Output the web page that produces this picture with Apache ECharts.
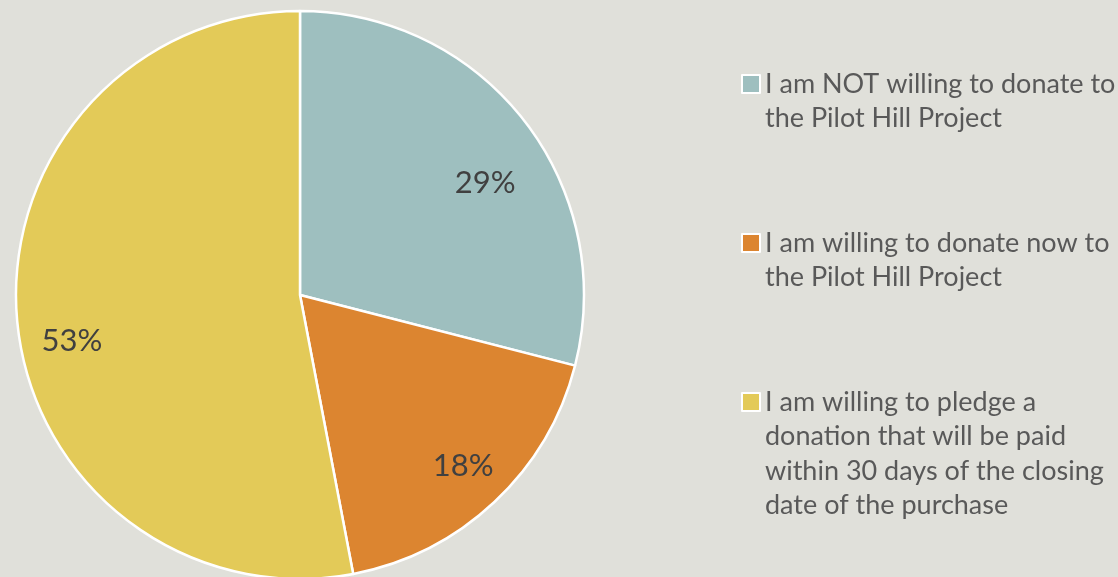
<!DOCTYPE html>
<html>
<head>
<meta charset="utf-8">
<script src="https://cdn.jsdelivr.net/npm/echarts@6/dist/echarts.min.js"></script>
<style>
  html, body { margin: 0; padding: 0; background: #e0e0da; }
  #chart { width: 1118px; height: 577px; }
</style>
</head>
<body>
<div id="chart"></div>
<script>
const categories = [
  "I am NOT willing to donate to the Pilot Hill Project",
  "I am willing to donate now to the Pilot Hill Project",
  "I am willing to pledge a donation that will be paid within 30 days of the closing date of the purchase",
];
// how the legend text wraps, line by line
const legendLines = [
  ["I am NOT willing to donate to", "the Pilot Hill Project"],
  ["I am willing to donate now to", "the Pilot Hill Project"],
  ["I am willing to pledge a", "donation that will be paid", "within 30 days of the closing", "date of the purchase"],
];
const shares = [29, 18, 53];
const colors = ["#9ebfbf", "#dc8530", "#e3ca58"];
// small nudges so the labels sit where the original put them
const labelNudge = [[5, 28], [7, 5], [-1, 25]];

const FONT = "Lato";
const LINE_H = 34.5;
const legendTops = [84, 243, 402]; // centre of the first line of each entry

const pieData = categories.map((name, i) => ({
  name: name,
  value: shares[i],
  itemStyle: { color: colors[i] },
}));

const legends = categories.map((name, i) => {
  const n = legendLines[i].length;
  // blank lines above keep the square level with the first line
  const pad = new Array(n - 1).fill(" ");
  return {
    orient: "vertical",
    left: 741,
    top: legendTops[i] - ((2 * n - 1) * LINE_H) / 2,
    itemWidth: 18,
    itemHeight: 18,
    selectedMode: false,
    padding: 0,
    icon: "rect",
    itemStyle: { borderColor: "#fff", borderWidth: 2 },
    data: [name],
    formatter: () => pad.concat(legendLines[i]).join("\n"),
    textStyle: {
      fontFamily: FONT,
      fontSize: 27,
      color: "#595959",
      lineHeight: LINE_H,
    },
  };
});

const chart = echarts.init(document.getElementById("chart"));
chart.setOption({
  backgroundColor: "#e0e0da",
  animation: false,
  legend: legends,
  series: [
    {
      type: "pie",
      center: [300, 295],
      radius: [0, 284],
      startAngle: 90,
      clockwise: true,
      itemStyle: { borderColor: "#fff", borderWidth: 2.5 },
      label: { show: false },
      labelLine: { show: false },
      emphasis: { disabled: true },
      data: pieData,
    },
    {
      // transparent twin, only to carry the labels further out
      type: "pie",
      center: [300, 295],
      radius: [150, 300],
      startAngle: 90,
      clockwise: true,
      silent: true,
      z: 5,
      itemStyle: { color: "rgba(0,0,0,0)" },
      label: {
        show: true,
        position: "inside",
        formatter: "{c}%",
        fontFamily: FONT,
        fontSize: 31,
        color: "#404040",
      },
      labelLine: { show: false },
      emphasis: { disabled: true },
      data: shares.map((v, i) => ({
        name: categories[i] + " ",
        value: v,
        label: { offset: labelNudge[i] },
      })),
    },
  ],
});
</script>
</body>
</html>
